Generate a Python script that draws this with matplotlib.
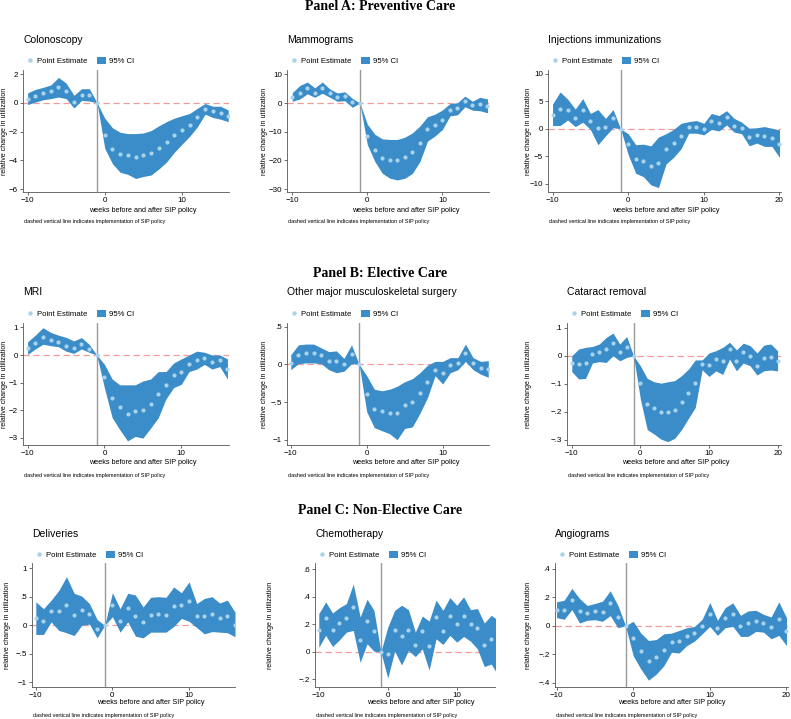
import numpy as np
import matplotlib
matplotlib.use("Agg")
import matplotlib.pyplot as plt
from matplotlib.lines import Line2D
from matplotlib.patches import Patch
from matplotlib.ticker import FuncFormatter

# ---- data -------------------------------------------------------------------
weeks16 = np.arange(-10, 17)
weeks20 = np.arange(-10, 21)

colon_est = [0.29, 0.48, 0.69, 0.81, 1.12, 0.81, 0.07, 0.57, 0.52, 0, -2.26, -3.19, -3.55, -3.6, -3.74,
             -3.62, -3.5, -3.12, -2.74, -2.21, -1.86, -1.52, -0.98, -0.40, -0.6, -0.71, -0.93]
colon_hi = [0.69, 0.93, 1.07, 1.24, 1.76, 1.36, 0.52, 0.98, 0.98, 0, -1.07, -1.74, -2.05, -2.14, -2.14,
            -2.1, -1.93, -1.6, -1.31, -1.07, -0.9, -0.74, -0.38, -0.05, -0.24, -0.24, -0.5]
colon_lo = [-0.12, 0.05, 0.21, 0.29, 0.40, 0.29, -0.36, 0.17, 0.12, 0, -3.17, -4.24, -4.83, -4.98, -5.26,
            -5.12, -5.02, -4.6, -4.12, -3.45, -2.88, -2.33, -1.67, -0.79, -1.02, -1.14, -1.31]

mammo_est = [2.0, 3.6, 5.3, 3.6, 5.4, 3.4, 2.0, 2.5, 0.4, 0, -11.4, -16.2, -19.2, -19.9, -19.9,
             -18.9, -17.1, -14.0, -8.9, -7.6, -5.9, -2.5, -1.9, 0.6, -0.6, -0.4, -1.2]
mammo_hi = [3.6, 6.1, 7.3, 5.3, 7.3, 4.9, 3.5, 3.9, 1.6, 0, -7.4, -10.9, -12.5, -12.7, -12.7,
            -11.9, -10.4, -8.0, -4.8, -3.9, -2.4, -0.2, 0.1, 2.4, 0.6, 2.0, 1.4]
mammo_lo = [0.6, 1.4, 3.2, 2.0, 3.4, 2.0, 0.6, 0.8, -1.5, 0, -14.5, -20.4, -24.5, -26.2, -26.8,
            -26.2, -24.5, -20.4, -13.3, -11.5, -9.2, -4.5, -4.1, -1.3, -2.5, -2.7, -3.4]

inject_est = [2.5, 3.6, 3.5, 2.0, 3.4, 1.5, 0.2, 0.4, 1.9, 0, -2.8, -5.5, -5.8, -6.7, -6.2, -3.6,
              -2.6, -1.3, 0.3, 0.4, 0, 1.4, 1.0, 2.1, 0.5, 0.2, -1.5, -1.1, -1.3, -1.6, -2.7]
inject_hi = [4.5, 6.7, 5.4, 3.6, 5.5, 2.8, 3.5, 1.9, 3.5, 0, -0.9, -2.9, -2.8, -3.1, -1.5, -0.9,
             -0.1, 1.0, 1.3, 1.5, 1.0, 2.8, 2.4, 3.3, 1.9, 1.2, 0.1, 0.2, 0.4, 0.1, -0.2]
inject_lo = [0.6, 0.6, 1.6, 0.4, 1.2, -0.1, -2.9, -1.3, 0.2, 0, -4.7, -8.1, -8.7, -10.2, -10.7, -6.4,
             -5.2, -3.6, -0.8, -0.8, -1.1, -0.1, -0.4, 0.7, -0.6, -0.9, -3.1, -2.6, -3.2, -3.2, -5.2]

mri_est = [0.27, 0.45, 0.66, 0.54, 0.48, 0.34, 0.24, 0.40, 0.20, 0, -0.78, -1.55, -1.90, -2.12, -2.02,
           -1.98, -1.77, -1.42, -1.08, -0.72, -0.63, -0.31, -0.18, -0.12, -0.27, -0.19, -0.49]
mri_hi = [0.48, 0.72, 0.99, 0.82, 0.72, 0.64, 0.51, 0.63, 0.39, 0, -0.34, -0.87, -1.08, -1.08, -1.08,
          -0.94, -0.87, -0.60, -0.60, -0.29, -0.14, 0.0, 0.14, 0.10, 0.0, 0.0, -0.14]
mri_lo = [0.02, 0.22, 0.39, 0.34, 0.30, 0.14, 0.06, 0.22, 0.10, 0, -1.20, -2.27, -2.71, -3.11, -2.95,
          -3.01, -2.65, -2.27, -1.59, -1.18, -1.06, -0.60, -0.51, -0.34, -0.51, -0.42, -0.87]

musc_est = [0.02, 0.13, 0.15, 0.15, 0.12, 0.05, 0.04, 0.01, 0.14, 0, -0.39, -0.59, -0.62, -0.64, -0.64,
            -0.54, -0.50, -0.38, -0.23, -0.07, -0.12, -0.01, 0.02, 0.15, 0.02, -0.05, -0.06]
musc_hi = [0.13, 0.26, 0.27, 0.27, 0.22, 0.17, 0.18, 0.08, 0.26, 0, -0.15, -0.33, -0.35, -0.33, -0.29,
           -0.23, -0.19, -0.11, -0.01, 0.04, 0.04, 0.09, 0.09, 0.27, 0.09, 0.04, 0.05]
musc_lo = [-0.07, 0.01, 0.02, 0.02, 0.01, -0.07, -0.11, -0.09, 0.01, 0, -0.63, -0.84, -0.88, -0.92, -1.0,
           -0.85, -0.83, -0.65, -0.44, -0.15, -0.26, -0.11, -0.07, 0.04, -0.07, -0.13, -0.17]

catar_est = [-0.027, -0.030, -0.026, 0.006, 0.014, 0.024, 0.044, 0.013, 0.033, 0, -0.098, -0.173, -0.188,
             -0.200, -0.200, -0.193, -0.164, -0.133, -0.098, -0.030, -0.033, -0.013, -0.019, 0.024,
             -0.018, 0.014, 0, -0.038, -0.008, -0.004, -0.018]
catar_hi = [0.0, 0.024, 0.030, 0.033, 0.042, 0.065, 0.081, 0.042, 0.069, 0, -0.036, -0.081, -0.093,
            -0.098, -0.093, -0.089, -0.071, -0.048, -0.015, -0.015, 0.010, 0.018, 0.030, 0.048,
            0.021, 0.045, 0.036, 0.010, 0.038, 0.042, 0.018]
catar_lo = [-0.057, -0.083, -0.081, -0.026, -0.021, -0.024, 0.0, -0.018, -0.006, 0, -0.155, -0.264, -0.280,
            -0.298, -0.307, -0.295, -0.264, -0.224, -0.185, -0.050, -0.074, -0.054, -0.067, -0.012,
            -0.054, -0.026, -0.036, -0.069, -0.054, -0.051, -0.054]

deliv_est = [0.13, 0.08, 0.25, 0.25, 0.35, 0.18, 0.26, 0.19, -0.07, 0, 0.36, 0.08, 0.30, 0.16, 0.05,
             0.18, 0.19, 0.18, 0.33, 0.35, 0.42, 0.17, 0.16, 0.20, 0.13, 0.16, 0.01]
deliv_hi = [0.41, 0.29, 0.44, 0.61, 0.85, 0.56, 0.51, 0.38, 0.10, 0, 0.57, 0.29, 0.56, 0.53, 0.32,
            0.49, 0.50, 0.49, 0.67, 0.57, 0.76, 0.38, 0.47, 0.50, 0.39, 0.44, 0.23]
deliv_lo = [-0.16, -0.16, 0.06, -0.09, -0.13, -0.18, 0, 0.02, -0.22, 0, 0.15, -0.12, 0.06, -0.19, -0.22,
            -0.12, -0.12, -0.12, -0.02, 0.12, 0.07, -0.04, -0.15, -0.11, -0.12, -0.13, -0.20]

chemo_est = [0.156, 0.246, 0.161, 0.207, 0.249, 0.329, 0.090, 0.224, 0.151, 0, -0.012, 0.161, 0.117,
             0.159, 0.051, 0.151, 0.041, 0.251, 0.151, 0.261, 0.205, 0.261, 0.200, 0.171, 0.049, 0.095, 0.03]
chemo_hi = [0.278, 0.363, 0.283, 0.322, 0.351, 0.493, 0.254, 0.383, 0.302, 0, 0.180, 0.302, 0.339,
            0.307, 0.144, 0.261, 0.224, 0.376, 0.302, 0.395, 0.339, 0.400, 0.307, 0.315, 0.210, 0.266, 0.23]
chemo_lo = [0.034, 0.120, 0.039, 0.088, 0.144, 0.156, -0.076, 0.059, 0.005, 0, -0.190, 0.005, -0.095,
            0.010, -0.034, 0.022, -0.132, 0.095, 0.054, 0.120, 0.071, 0.112, 0.078, 0.022, -0.107, -0.088, -0.17]

angio_est = [0.113, 0.108, 0.182, 0.101, 0.087, 0.101, 0.099, 0.156, 0.064, 0, -0.087, -0.175, -0.245,
             -0.219, -0.170, -0.116, -0.108, -0.073, -0.050, -0.002, 0.083, -0.017, 0.057, 0.083,
             -0.002, 0.017, 0.035, 0.019, -0.012, 0.047, -0.038]
angio_hi = [0.167, 0.179, 0.262, 0.191, 0.142, 0.156, 0.172, 0.245, 0.144, 0, 0.031, -0.052, -0.104,
            -0.097, -0.057, -0.052, -0.033, -0.014, -0.005, 0.045, 0.163, 0.038, 0.127, 0.160,
            0.073, 0.104, 0.108, 0.080, 0.061, 0.167, 0.057]
angio_lo = [0.057, 0.045, 0.113, 0.019, 0.038, 0.042, 0.031, 0.071, -0.014, 0, -0.210, -0.304, -0.382,
            -0.340, -0.281, -0.186, -0.191, -0.139, -0.108, -0.057, -0.005, -0.068, -0.014, -0.005,
            -0.075, -0.075, -0.040, -0.045, -0.092, -0.068, -0.139]

titles = ["Colonoscopy", "Mammograms", "Injections immunizations",
          "MRI", "Other major musculoskeletal surgery", "Cataract removal",
          "Deliveries", "Chemotherapy", "Angiograms"]
section_titles = ["Panel A: Preventive Care", "Panel B: Elective Care", "Panel C: Non-Elective Care"]
y_ticks = [[-6, -4, -2, 0, 2], [-30, -20, -10, 0, 10], [-10, -5, 0, 5, 10],
           [-3, -2, -1, 0, 1], [-1, -0.5, 0, 0.5], [-0.3, -0.2, -0.1, 0, 0.1],
           [-1, -0.5, 0, 0.5, 1], [-0.2, 0, 0.2, 0.4, 0.6], [-0.4, -0.2, 0, 0.2, 0.4]]
policy_week = -1

series = [
    (weeks16, colon_est, colon_hi, colon_lo),
    (weeks16, mammo_est, mammo_hi, mammo_lo),
    (weeks20, inject_est, inject_hi, inject_lo),
    (weeks16, mri_est, mri_hi, mri_lo),
    (weeks16, musc_est, musc_hi, musc_lo),
    (weeks20, catar_est, catar_hi, catar_lo),
    (weeks16, deliv_est, deliv_hi, deliv_lo),
    (weeks16, chemo_est, chemo_hi, chemo_lo),
    (weeks20, angio_est, angio_hi, angio_lo),
]

# ---- layout (pixel boxes: left, top, right, bottom) ---------------------------
W, H = 791, 719
boxes = [(23, 70, 229, 192), (287, 70, 489, 192), (548, 70, 781, 192),
         (23, 323, 229, 445), (287, 323, 489, 445), (567, 323, 781, 445),
         (32, 563, 235, 687), (315, 563, 495, 687), (555, 563, 788, 687)]
xlims = [(-10.6, 16.1), (-10.7, 16.2), (-10.6, 20.2),
         (-10.6, 16.2), (-10.5, 16.1), (-10.7, 20.5),
         (-10.5, 16.0), (-10.55, 15.55), (-10.2, 20.2)]
ylims = [(-6.2, 2.28), (-31, 11.5), (-11.5, 10.7),
         (-3.26, 1.16), (-1.07, 0.55), (-0.319, 0.117),
         (-1.08, 1.09), (-0.255, 0.646), (-0.43, 0.44)]
xlabel_cx = [143, 406, 666, 143, 406, 676, 151, 421, 672]
ylabel_x = [5, 264, 529, 5, 264, 529, 8, 271, 529]
row_title_y = [40, 292, 534]
row_legend_y = [61, 314, 555]
row_xlabel_y = [210, 463, 703]
row_note_y = [222, 475, 716]
section_base = [9.5, 277, 514]

FILL = "#3a8dc8"
POINT = "#a9d3ec"
ZERO = "#f29a9a"
VLINE = "#9a9a9a"
AXC = "#555555"

plt.rcParams["font.family"] = ["Liberation Sans", "DejaVu Sans"]


def stata_fmt(v, pos):
    s = f"{v:g}"
    if s.startswith("0."):
        s = s[1:]
    elif s.startswith("-0."):
        s = "-" + s[2:]
    return s.replace("-", "\u2212")


fig = plt.figure(figsize=(W / 100, H / 100), dpi=100)
fig.patch.set_facecolor("white")

for i, (x, est, hi, lo) in enumerate(series):
    x0, y0, x1, y1 = boxes[i]
    row = i // 3
    ax = fig.add_axes([x0 / W, 1 - y1 / H, (x1 - x0) / W, (y1 - y0) / H])
    ax.axhline(0, color=ZERO, lw=0.9, ls=(0, (5, 3)), zorder=1)
    ax.axvline(policy_week, color=VLINE, lw=1.0, zorder=1)
    ax.fill_between(x, lo, hi, color=FILL, lw=0, zorder=2)
    ax.scatter(x, est, s=9, color=POINT, lw=0, zorder=3)
    ax.set_xlim(*xlims[i])
    ax.set_ylim(*ylims[i])
    ax.set_xticks([-10, 0, 10] + ([20] if len(x) > 27 else []))
    ax.set_yticks(y_ticks[i])
    ax.yaxis.set_major_formatter(FuncFormatter(stata_fmt))
    ax.xaxis.set_major_formatter(FuncFormatter(stata_fmt))
    for side in ("top", "right"):
        ax.spines[side].set_visible(False)
    for side in ("left", "bottom"):
        ax.spines[side].set_color(AXC)
        ax.spines[side].set_linewidth(0.6)
    ax.tick_params(length=2.2, width=0.6, color=AXC, labelsize=5.8, pad=1.5)
    ax.set_facecolor("white")

    fig.text(x0 / W, 1 - row_title_y[row] / H, titles[i], fontsize=7.5, va="center", ha="left")
    handles = [Line2D([], [], marker="o", ls="none", ms=3.2, mfc=POINT, mec="none"),
               Patch(facecolor=FILL, edgecolor="none")]
    ax.legend(handles, ["Point Estimate", "95% CI"], loc="center left",
              bbox_to_anchor=((x0 + 2) / W, 1 - row_legend_y[row] / H), bbox_transform=fig.transFigure,
              ncol=2, frameon=False, fontsize=5.6, handlelength=1.2, handleheight=0.9,
              handletextpad=0.3, columnspacing=1.3, borderpad=0, borderaxespad=0)
    fig.text(ylabel_x[i] / W, 1 - (y0 + y1) / 2 / H, "relative change in utilization",
             rotation=90, fontsize=5.0, va="center", ha="center")
    fig.text(xlabel_cx[i] / W, 1 - row_xlabel_y[row] / H, "weeks before and after SIP policy",
             fontsize=5.2, va="center", ha="center")
    fig.text((x0 + 1) / W, 1 - row_note_y[row] / H,
             "dashed vertical line indicates implementation of SIP policy",
             fontsize=4.0, va="center", ha="left")

for k, t in enumerate(section_titles):
    fig.text(380 / W, 1 - section_base[k] / H, t, fontsize=10, fontweight="bold",
             family=["Liberation Serif", "DejaVu Serif"], ha="center", va="baseline")

fig.savefig("out.png", dpi=100, facecolor="white")
